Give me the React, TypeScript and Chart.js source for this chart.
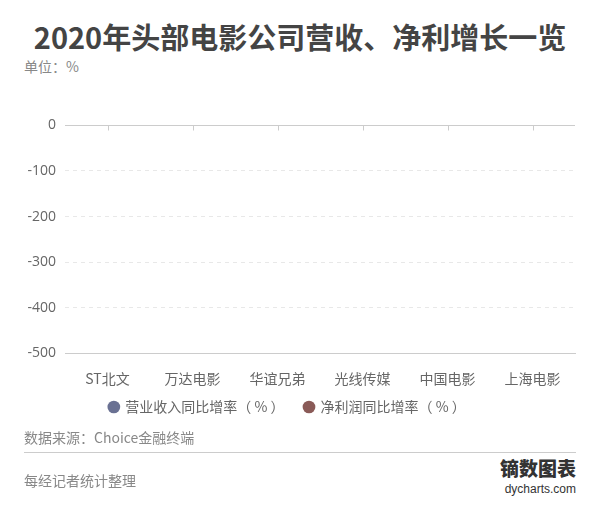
import React, { useEffect, useRef } from "react";
import { Chart, registerables } from "chart.js";

Chart.register(...registerables);

const categories = ["ST北文", "万达电影", "华谊兄弟", "光线传媒", "中国电影", "上海电影"];
const revenueGrowth = [0, 0, 0, 0, 0, 0];
const profitGrowth = [0, 0, 0, 0, 0, -1];
const seriesNames = ["营业收入同比增率（ % ）", "净利润同比增率（ % ）"];
const yTicks = [0, -100, -200, -300, -400, -500];

const CJK = '"Noto Sans CJK SC", "Noto Sans", sans-serif';

const zeroLinePlugin = {
  id: "zeroLine",
  afterLayout(chart: any) {
    const l = chart.legend;
    if (l) {
      l.top -= 24;
      l.bottom -= 24;
    }
  },
  afterDatasetsDraw(chart: any) {
    const { ctx, scales } = chart;
    const x = scales.x;
    const y = scales.y;
    const y0 = Math.round(y.getPixelForValue(0)) + 0.5;
    ctx.save();
    ctx.strokeStyle = "#cccccc";
    ctx.lineWidth = 1;
    ctx.beginPath();
    ctx.moveTo(x.left, y0);
    ctx.lineTo(x.right, y0);
    for (let i = 0; i < categories.length; i++) {
      const px = Math.round(x.getPixelForValue(i)) + 0.5;
      ctx.moveTo(px, y0);
      ctx.lineTo(px, y0 + 5);
    }
    ctx.stroke();
    ctx.restore();
  },
};

export default function App() {
  const ref = useRef<HTMLCanvasElement | null>(null);
  useEffect(() => {
    document.body.style.margin = "0";
    if (!ref.current) return;
    const chart = new Chart(ref.current, {
      type: "bar",
      data: {
        labels: categories,
        datasets: [
          {
            label: seriesNames[0],
            data: revenueGrowth,
            backgroundColor: "#6a7193",
            barPercentage: 1,
            categoryPercentage: 0.705,
          },
          {
            label: seriesNames[1],
            data: profitGrowth,
            backgroundColor: "#8a5a57",
            barPercentage: 1,
            categoryPercentage: 0.705,
          },
        ],
      },
      options: {
        animation: false,
        responsive: false,
        maintainAspectRatio: false,
        layout: { padding: { left: 0, right: 25, top: 0, bottom: 0 } },
        plugins: {
          title: { display: false },
          tooltip: { enabled: false },
          legend: {
            display: true,
            position: "bottom",
            labels: {
              usePointStyle: true,
              pointStyle: "circle",
              boxWidth: 9,
              boxHeight: 9,
              padding: 20,
              color: "#666666",
              font: { family: CJK, size: 14 },
            },
          },
        },
        scales: {
          x: {
            grid: { display: false, drawTicks: false },
            border: { display: true, color: "#cccccc" },
            ticks: {
              color: "#666666",
              padding: 17,
              font: { family: CJK, size: 14 },
            },
          },
          y: {
            min: -500,
            max: 0,
            afterFit(scale: any) {
              scale.width = 65;
            },
            afterBuildTicks(scale: any) {
              scale.ticks = yTicks.map((v) => ({ value: v }));
            },
            grid: {
              drawTicks: false,
              color: (c: any) => (c.tick && c.tick.value === 0 ? "rgba(0,0,0,0)" : "#e8e8e8"),
            },
            border: { display: false, dash: [4, 4] },
            ticks: {
              color: "#666666",
              padding: 9,
              font: { family: '"Open Sans", "Noto Sans", sans-serif', size: 14 },
            },
          },
        },
      },
      plugins: [zeroLinePlugin],
    });
    return () => chart.destroy();
  }, []);

  return (
    <div style={{ position: "relative", width: 600, height: 510, background: "#fff", fontFamily: CJK }}>
      <div
        style={{
          position: "absolute",
          top: 16,
          left: 0,
          width: 600,
          textAlign: "center",
          fontSize: 29,
          fontWeight: 700,
          color: "#444444",
          lineHeight: "40px",
          whiteSpace: "nowrap",
        }}
      >
        2020年头部电影公司营收、净利增长一览
      </div>
      <div style={{ position: "absolute", top: 57, left: 24, fontSize: 14, color: "#888888", lineHeight: "18px" }}>
        单位：%
      </div>
      <canvas
        ref={ref}
        width={600}
        height={340}
        style={{ position: "absolute", top: 108, left: 0, width: 600, height: 340 }}
      />
      <div style={{ position: "absolute", top: 428, left: 24, fontSize: 14, color: "#888888", lineHeight: "18px" }}>
        数据来源：Choice金融终端
      </div>
      <div style={{ position: "absolute", top: 452, left: 24, width: 552, height: 1, background: "#cccccc" }} />
      <div style={{ position: "absolute", top: 471, left: 24, fontSize: 14, color: "#888888", lineHeight: "18px" }}>
        每经记者统计整理
      </div>
      <div
        style={{
          position: "absolute",
          top: 456,
          right: 24,
          fontSize: 19,
          fontWeight: 900,
          color: "#333333",
          lineHeight: "24px",
          fontFamily: '"Noto Sans CJK SC", serif',
        }}
      >
        镝数图表
      </div>
      <div
        style={{
          position: "absolute",
          top: 481,
          right: 24,
          fontSize: 12,
          color: "#333333",
          lineHeight: "16px",
          fontFamily: '"Liberation Sans", Arial, sans-serif',
        }}
      >
        dycharts.com
      </div>
    </div>
  );
}
